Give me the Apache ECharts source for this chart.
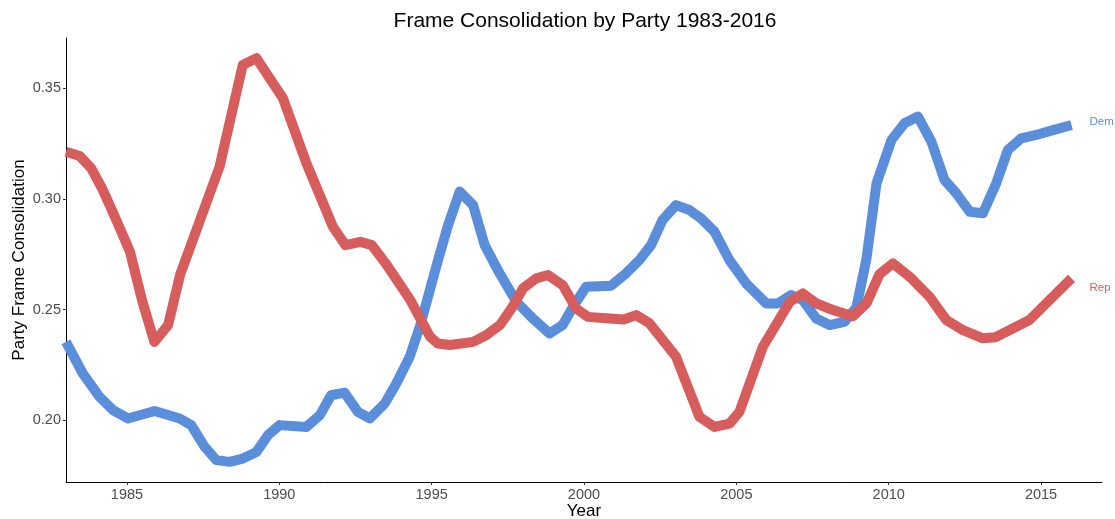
<!DOCTYPE html>
<html>
<head>
<meta charset="UTF-8">
<title>Frame Consolidation by Party</title>
<script src="https://cdn.jsdelivr.net/npm/echarts@6/dist/echarts.min.js"></script>
<style>
  html, body { margin: 0; padding: 0; background: #fff; }
  #main { width: 1115px; height: 519px; }
</style>
</head>
<body>
<div id="main"></div>
<script>
// values
var demYears = [1983.0, 1983.55, 1984.1, 1984.54, 1985.03, 1985.91, 1986.73, 1987.11, 1987.55, 1987.93,
    1988.37, 1988.8, 1989.25, 1989.63, 1990.01, 1990.89, 1991.33, 1991.7, 1992.14, 1992.58,
    1992.97, 1993.46, 1993.84, 1994.28, 1994.61, 1994.94, 1995.21, 1995.54, 1995.92, 1996.36,
    1996.74, 1997.23, 1997.78, 1998.32, 1998.87, 1999.3, 1999.64, 2000.07, 2000.89, 2001.38,
    2001.82, 2002.2, 2002.58, 2003.02, 2003.46, 2003.84, 2004.28, 2004.77, 2005.32, 2005.98,
    2006.36, 2006.8, 2007.18, 2007.62, 2008.06, 2008.55, 2008.94, 2009.27, 2009.6, 2010.09,
    2010.52, 2010.96, 2011.4, 2011.83, 2012.22, 2012.66, 2013.09, 2013.53, 2013.91, 2014.35,
    2014.84, 2015.39, 2016.0];
var demValues = [0.2354, 0.2212, 0.2106, 0.2046, 0.2008, 0.2042, 0.2008, 0.1978, 0.1880, 0.1820,
    0.1812, 0.1827, 0.1857, 0.1933, 0.1978, 0.1970, 0.2023, 0.2113, 0.2125, 0.2038,
    0.2008, 0.2076, 0.2166, 0.2287, 0.2422, 0.2588, 0.2724, 0.2882, 0.3033, 0.2972,
    0.2791, 0.2664, 0.2535, 0.2460, 0.2392, 0.2430, 0.2513, 0.2603, 0.2608, 0.2664,
    0.2724, 0.2791, 0.2905, 0.2972, 0.2950, 0.2912, 0.2852, 0.2724, 0.2618, 0.2528,
    0.2528, 0.2566, 0.2543, 0.2460, 0.2430, 0.2445, 0.2510, 0.2730, 0.3070, 0.3266,
    0.3342, 0.3372, 0.3259, 0.3086, 0.3025, 0.2942, 0.2935, 0.3071, 0.3221, 0.3274,
    0.3289, 0.3311, 0.3334];

var repYears = [1983.0, 1983.45, 1983.83, 1984.2, 1984.65, 1985.1, 1985.5, 1985.9, 1986.35, 1986.75,
    1988.04, 1988.8, 1989.25, 1990.12, 1990.89, 1991.76, 1992.17, 1992.66, 1993.04, 1993.53,
    1994.3, 1994.95, 1995.2, 1995.6, 1996.36, 1996.8, 1997.24, 1997.62, 1998.0, 1998.43,
    1998.82, 1999.3, 1999.74, 2000.13, 2000.84, 2001.3, 2001.71, 2002.15, 2003.02, 2003.79,
    2004.28, 2004.78, 2005.1, 2005.87, 2006.75, 2007.18, 2007.62, 2008.17, 2008.83, 2009.27,
    2009.7, 2010.14, 2010.69, 2011.34, 2011.89, 2012.44, 2013.09, 2013.5, 2013.86, 2014.62,
    2015.28, 2016.0];
var repValues = [0.3213, 0.3194, 0.3138, 0.3043, 0.2905, 0.2761, 0.2540, 0.2354, 0.2430, 0.2660,
    0.3146, 0.3605, 0.3636, 0.3455, 0.3161, 0.2874, 0.2791, 0.2806, 0.2791, 0.2701,
    0.2543, 0.2377, 0.2347, 0.2340, 0.2354, 0.2385, 0.2430, 0.2505, 0.2596, 0.2641,
    0.2656, 0.2611, 0.2505, 0.2467, 0.2460, 0.2455, 0.2475, 0.2438, 0.2287, 0.2015,
    0.1970, 0.1985, 0.2038, 0.2332, 0.2535, 0.2573, 0.2528, 0.2498, 0.2470, 0.2528,
    0.2660, 0.2709, 0.2648, 0.2558, 0.2453, 0.2407, 0.2370, 0.2375, 0.2400, 0.2453,
    0.2543, 0.2641];

var xTicks = [1985, 1990, 1995, 2000, 2005, 2010, 2015];
var yTicks = [0.20, 0.25, 0.30, 0.35];

function pairs(xs, ys) {
    var out = [];
    for (var i = 0; i < xs.length; i++) out.push([xs[i], ys[i]]);
    return out;
}

var chart = echarts.init(document.getElementById('main'));
var font = '"Liberation Sans", Arial, sans-serif';

chart.setOption({
    animation: false,
    backgroundColor: '#ffffff',
    textStyle: { fontFamily: font },
    title: {
        text: 'Frame Consolidation by Party 1983-2016',
        left: 580,
        textAlign: 'center',
        top: 6,
        textStyle: { fontFamily: font, fontSize: 21, fontWeight: 'normal', color: '#000' }
    },
    grid: { left: 66, right: 13, top: 38, bottom: 37, outerBoundsMode: 'none', containLabel: false },
    xAxis: {
        type: 'value',
        min: 1983,
        max: 2017,
        name: 'Year',
        nameLocation: 'middle',
        nameGap: 21,
        nameMoveOverlap: false,
        nameTextStyle: { fontFamily: font, fontSize: 17, color: '#000' },
        splitLine: { show: false },
        axisLine: { show: true, onZero: false, lineStyle: { color: '#000', width: 1 } },
        axisTick: { show: true, length: 3, customValues: xTicks, lineStyle: { color: '#333' } },
        axisLabel: {
            customValues: xTicks,
            margin: 5,
            fontFamily: font,
            fontSize: 14.5,
            color: '#4d4d4d',
            formatter: function (v) { return String(v); }
        }
    },
    yAxis: {
        type: 'value',
        min: 0.1721,
        max: 0.3727,
        name: 'Party Frame Consolidation',
        nameLocation: 'middle',
        nameGap: 38,
        nameMoveOverlap: false,
        nameTextStyle: { fontFamily: font, fontSize: 17, color: '#000' },
        splitLine: { show: false },
        axisLine: { show: true, onZero: false, lineStyle: { color: '#000', width: 1 } },
        axisTick: { show: true, length: 3, customValues: yTicks, lineStyle: { color: '#333' } },
        axisLabel: {
            customValues: yTicks,
            margin: 5,
            fontFamily: font,
            fontSize: 14.5,
            color: '#4d4d4d',
            formatter: function (v) { return v.toFixed(2); }
        }
    },
    series: [
        {
            name: 'Dem',
            type: 'line',
            showSymbol: false,
            clip: false,
            data: pairs(demYears, demValues),
            lineStyle: { color: '#5a8edb', width: 10, join: 'round', cap: 'butt' },
            endLabel: {
                show: true,
                formatter: 'Dem',
                distance: 18,
                offset: [0, -3],
                color: '#5a8edb',
                fontFamily: font,
                fontSize: 11.5
            }
        },
        {
            name: 'Rep',
            type: 'line',
            showSymbol: false,
            clip: false,
            data: pairs(repYears, repValues),
            lineStyle: { color: '#d75c5c', width: 10, join: 'round', cap: 'butt' },
            endLabel: {
                show: true,
                formatter: 'Rep',
                distance: 18,
                offset: [0, 9],
                color: '#d75c5c',
                fontFamily: font,
                fontSize: 11.5
            }
        }
    ]
});
</script>
</body>
</html>
